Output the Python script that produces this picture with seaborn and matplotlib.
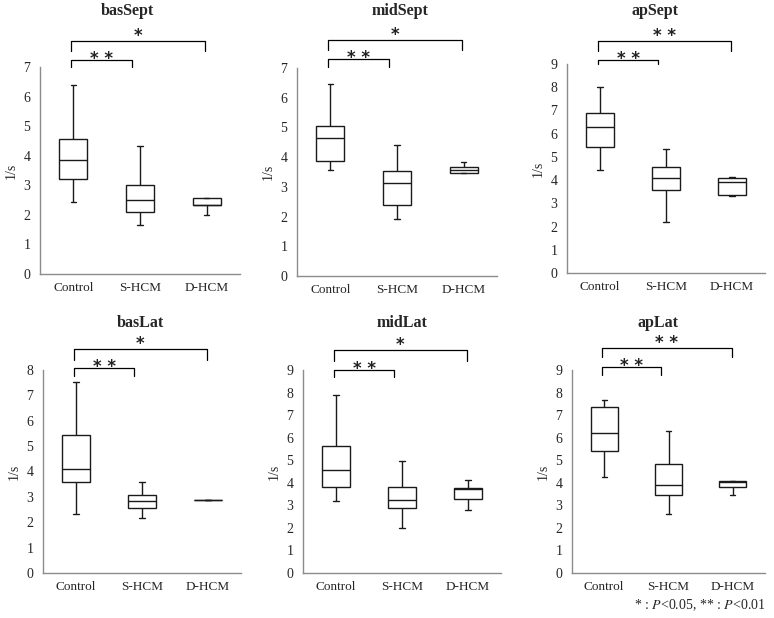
"""
Strain-rate box plots by segment (Control vs S-HCM vs D-HCM) with significance brackets.
"""
import numpy as np
import pandas as pd
import matplotlib
matplotlib.use("Agg")
import matplotlib.pyplot as plt
import seaborn as sns

groups = ["Control", "S-HCM", "D-HCM"]
panel_names = ["basSept", "midSept", "apSept", "basLat", "midLat", "apLat"]

# five-number summaries: min, q1, median, q3, max
basSept = [[2.45, 3.22, 3.85, 4.55, 6.40],
           [1.65, 2.10, 2.50, 3.00, 4.32],
           [2.00, 2.32, 2.33, 2.58, 2.58]]
midSept = [[3.58, 3.88, 4.63, 5.06, 6.47],
           [1.92, 2.40, 3.12, 3.52, 4.42],
           [3.47, 3.47, 3.57, 3.67, 3.82]]
apSept = [[4.42, 5.43, 6.27, 6.90, 8.02],
          [2.20, 3.56, 4.10, 4.55, 5.32],
          [3.33, 3.38, 3.90, 4.10, 4.12]]
basLat = [[2.32, 3.60, 4.10, 5.43, 7.52],
          [2.18, 2.55, 2.84, 3.08, 3.57],
          [2.86, 2.86, 2.86, 2.86, 2.86]]
midLat = [[3.18, 3.80, 4.55, 5.65, 7.90],
          [1.98, 2.87, 3.23, 3.82, 4.97],
          [2.78, 3.28, 3.72, 3.76, 4.13]]
apLat = [[4.25, 5.43, 6.20, 7.35, 7.67],
         [2.60, 3.47, 3.92, 4.85, 6.28],
         [3.47, 3.80, 4.02, 4.08, 4.10]]
panel_data = [basSept, midSept, apSept, basLat, midLat, apLat]

y_max = [7, 7, 9, 8, 9, 9]
stars_shcm = ["**", "**", "**", "**", "**", "**"]
stars_dhcm = ["*", "*", "**", "*", "*", "**"]

# bracket levels (data units): horizontal line and end of the drop
low_y = [7.24, 7.30, 9.17, 8.08, 9.00, 9.13]
low_drop = [7.00, 7.03, 9.00, 7.76, 8.69, 8.78]
up_y = [7.88, 7.94, 9.99, 8.83, 9.88, 9.97]
up_drop = [7.54, 7.61, 9.56, 8.39, 9.40, 9.57]

rows = []
for name, data in zip(panel_names, panel_data):
    for g, vals in zip(groups, data):
        for v in vals:
            rows.append((name, g, v))
df = pd.DataFrame(rows, columns=["panel", "group", "value"])

sns.set_style("white")
plt.rcParams["font.family"] = ["Liberation Serif", "DejaVu Serif"]
plt.rcParams["mathtext.fontset"] = "stix"

W, H = 774, 618
fig = plt.figure(figsize=(W / 100, H / 100), dpi=100)

# axes boxes in pixels: left, right, top, bottom
boxes = [(40, 240, 67, 274), (297, 497, 68, 276), (567, 765, 64, 273),
         (43, 241, 370, 573), (303, 501, 370, 573), (572, 765, 370, 573)]
# title centres in pixels
title_pos = [(127, 11), (400, 11), (655, 11), (140, 323), (402, 323), (658, 323)]

spine_col = "#8c8c8c"
box_col = "#1a1a1a"

for i, name in enumerate(panel_names):
    l, r, t, b = boxes[i]
    ax = fig.add_axes([l / W, 1 - b / H, (r - l) / W, (b - t) / H])
    sub = df[df["panel"] == name]
    sns.boxplot(data=sub, x="group", y="value", order=groups, ax=ax,
                whis=(0, 100), width=0.42, color="white", linecolor=box_col,
                linewidth=1.0, showfliers=False, capwidths=0.08)

    ax.set_xlim(-0.5, 2.5)
    ax.set_ylim(0, y_max[i])
    ax.set_yticks(range(0, y_max[i] + 1))
    ax.set_xticks([-0.5, 0.5, 1.5, 2.5])
    ax.set_xticklabels([])
    ax.set_xticks([0, 1, 2], minor=True)
    ax.set_xticklabels(groups, minor=True, fontsize=9.5)
    ax.tick_params(axis="x", which="major", length=4, color=spine_col, direction="out")
    ax.tick_params(axis="x", which="minor", length=0, pad=6)
    ax.tick_params(axis="y", length=4, color=spine_col, direction="out", labelsize=10, pad=3)
    for s in ["top", "right"]:
        ax.spines[s].set_visible(False)
    for s in ["left", "bottom"]:
        ax.spines[s].set_color(spine_col)
        ax.spines[s].set_linewidth(1.0)
    ax.set_xlabel("")
    ax.set_ylabel("1/s", fontsize=10, labelpad=4)

    tx, ty = title_pos[i]
    fig.text(tx / W, 1 - ty / H, name, ha="center", va="center",
             fontsize=11.5, fontweight="bold")

    # significance brackets
    x0, x1, x2 = -0.03, 0.88, 1.98
    ax.plot([x0, x0, x1, x1], [low_drop[i], low_y[i], low_y[i], low_drop[i]],
            color="black", lw=0.9, clip_on=False)
    ax.plot([x0, x0, x2, x2], [up_drop[i], up_y[i], up_y[i], up_drop[i]],
            color="black", lw=0.9, clip_on=False)
    ax.annotate(" ".join(stars_shcm[i]), xy=((x0 + x1) / 2, low_y[i]), xytext=(0, 0.5),
                textcoords="offset points", ha="center", va="center",
                fontsize=12, fontweight="bold", family="DejaVu Sans",
                color="#222222", annotation_clip=False)
    ax.annotate(" ".join(stars_dhcm[i]), xy=((x0 + x2) / 2, up_y[i]), xytext=(0, 3.5),
                textcoords="offset points", ha="center", va="center",
                fontsize=12, fontweight="bold", family="DejaVu Sans",
                color="#222222", annotation_clip=False)

fig.text(766 / W, 1 - 605 / H, r"* : $P$<0.05, ** : $P$<0.01", ha="right",
         va="center", fontsize=10)

fig.savefig("out.png", dpi=100)
